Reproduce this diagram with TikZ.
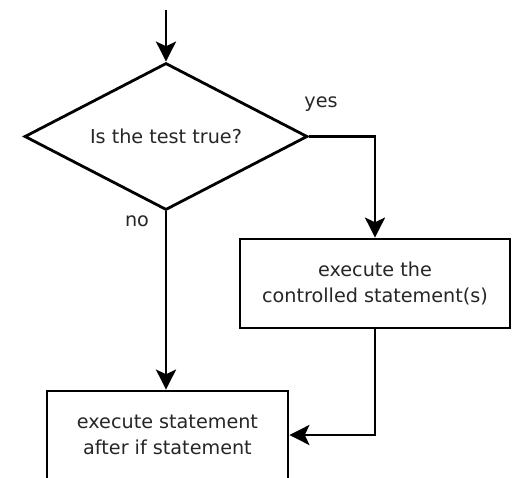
\documentclass[tikz,border=0pt]{standalone}
\usepackage{fontspec}
\setmainfont{DejaVu Sans}
\usetikzlibrary{shapes.geometric,arrows.meta}
\begin{document}
\begin{tikzpicture}[x=0.75pt,y=-0.75pt,
  line width=2.1pt,
  every node/.style={font=\fontsize{14.4}{19.8}\selectfont, text=black!85},
  flow/.style={draw=black, -{Stealth[length=15pt,width=15pt,inset=3.5pt]}},
  decision/.style={draw=black, shape=diamond, aspect=1.93, inner sep=0pt,
     minimum width=283*0.75pt, minimum height=147*0.75pt},
  action/.style={draw=black, rectangle, align=center, inner sep=0pt},
  lbl/.style={inner sep=0pt}
]
\clip (0,0) rectangle (514,478);
\fill[white] (0,0) rectangle (514,478);
\coordinate (start) at (166,10);
\node[decision] (test) at (166,136.5) {Is the test true?};
\node[action, minimum width=270*0.75pt, minimum height=89*0.75pt] (body) at (375,283.5)
  {execute the\\controlled statement(s)};
\node[action, minimum width=241*0.75pt, minimum height=88*0.75pt] (after) at (167.5,435)
  {execute statement\\after if statement};
\node[lbl] (yes) at (321,104) {yes};
\node[lbl] (no) at (137,221) {no};
\draw[flow] (start) -- (test.north);
\draw[flow] (test.east) -| (body.north);
\draw[flow] (test.south) -- (test.south |- after.north);
\draw[flow] (body.south) |- (after.east);
\end{tikzpicture}
\end{document}
